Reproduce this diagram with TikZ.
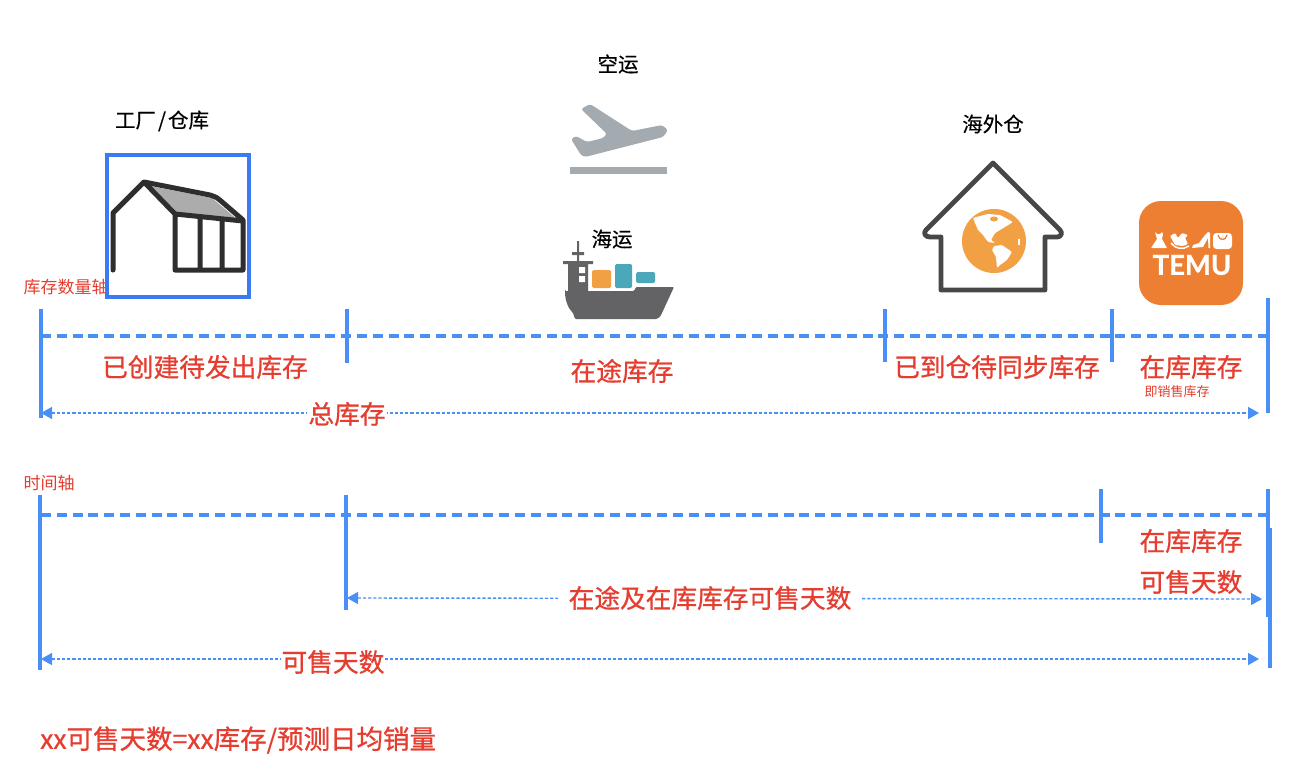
\documentclass[tikz,border=0pt]{standalone}
\usepackage{fontspec}
\setmainfont{Noto Sans CJK SC}
\newfontfamily\redfont[FakeBold=0.8]{Noto Sans CJK SC}
\newfontfamily\titlefont[FakeBold=0.4]{Noto Sans CJK SC}
\newfontfamily\logofont[FakeBold=0.8]{Lato Bold}
\usetikzlibrary{arrows.meta, positioning, calc}
\definecolor{axisblue}{HTML}{4A8FF5}
\definecolor{boxblue}{HTML}{3A7BF2}
\definecolor{labelred}{HTML}{E53D2F}
\definecolor{planegrey}{HTML}{A3ABB1}
\definecolor{shipgrey}{HTML}{636366}
\definecolor{crateorange}{HTML}{F2A044}
\definecolor{crateteal}{HTML}{4BA7BA}
\definecolor{temuorange}{HTML}{ED7F32}
\tikzset{
  axisline/.style={draw=axisblue,line width=4.5pt,dash pattern=on 10pt off 5.8pt},
  tickline/.style={draw=axisblue,line width=3.4pt},
  spanline/.style={draw=axisblue,line width=1.4pt,dash pattern=on 3.2pt off 2pt,{Triangle[length=11pt,width=12pt]}-{Triangle[length=11pt,width=12pt]}},
  biglabel/.style={text=labelred,font=\redfont\fontsize{25.7}{27}\selectfont,inner sep=1pt},
  smalllabel/.style={text=labelred,font=\fontsize{17}{18}\selectfont,inner sep=0pt},
  titlelabel/.style={text=black,font=\titlefont\fontsize{20.5}{22}\selectfont,inner sep=0pt},
}
\begin{document}
\begin{tikzpicture}[x=1pt,y=-1pt]
\useasboundingbox[fill=white] (0,0) rectangle (1310,774);
% Titles
\node[titlelabel] (title_factory) at (162,121) {工厂\kern2pt/\kern2pt仓库};
\node[titlelabel] (title_air) at (618,64) {空运};
\node[titlelabel] (title_oversea) at (993,124) {海外仓};
\node[smalllabel] (title_qty) at (66,287) {库存数量轴};
\node[smalllabel] (title_time) at (49,483) {时间轴};
% Factory
\node[draw=boxblue,line width=3.5pt,minimum size=142pt,inner sep=0pt] (factory_box) at (178,226) {};
\fill[gray!65] (150,186) -- (176,212) -- (238,220) -- (212,198) -- cycle;
\draw[line width=5pt,color=black!82,line join=round,line cap=round] (113,270) -- (113,213) -- (144,182) -- (210,195) .. controls (216,197) and (218,198) .. (221,201) -- (243,220) -- (243,270) -- (175,270) -- (175,214) -- (144,182) (175,214) -- (243,221) (200,218) -- (200,270) (222,220) -- (222,270);
% Plane
\fill[planegrey,rounded corners=2.5pt] (581,109) -- (590,104) -- (632,131) -- (662,125) -- (668,130) -- (663,137) -- (585,157) -- (581,155) -- (571,139) -- (576,136) -- (587,142) -- (603,138) -- (607,134) -- cycle;
\fill[planegrey] (570,167) rectangle (667,174);
% Ship
\fill[shipgrey] (577,241) rectangle (579,261) (572,252) rectangle (584,255);
\fill[shipgrey] (563,261) rectangle (593,264) (568,264) rectangle (588,291);
\fill[white] (579,267) rectangle (585,273) (579,276) rectangle (585,282);
\fill[crateorange,rounded corners=1.5pt] (592,270) rectangle (611,288);
\fill[crateteal,rounded corners=1.5pt] (615,264) rectangle (632,288) (636,272) rectangle (655,283);
\fill[shipgrey,rounded corners=1pt] (565,291) -- (634,291) -- (636,287) -- (674,287) -- (662,313) .. controls (660,317) and (658,319) .. (655,319) -- (575,319) -- (573,313) .. controls (568,308) and (565,300) .. (565,291) -- cycle;
\node[titlelabel] (title_sea) at (612,239) {海运};
% Overseas warehouse
\fill[crateorange] (994,241) circle (32pt);
\fill[white,rounded corners=1pt] (973,218) -- (980,216) -- (988,214) -- (1000,215) -- (1013,222) -- (1005,227) -- (1000,230) -- (995,233) -- (991,240) -- (995,243) -- (988,242) -- (983,235) -- (978,230) -- (975,223) -- cycle;
\fill[crateorange] (994,219) ellipse (4pt and 2.5pt);
\fill[white,rounded corners=1pt] (994,246) -- (1002,245) -- (1012,252) -- (1007,260) -- (1000,265) -- (997,268) -- (996,257) -- (992,250) -- cycle;
\fill[white] (1018,239) rectangle (1020,245);
\draw[line width=4.8pt,color=black!72,line join=round] (941,290) -- (941,237) -- (930,237) .. controls (925,237) and (923,233) .. (926,230) -- (993,163) -- (1060,230) .. controls (1063,233) and (1061,237) .. (1057,237) -- (1045,237) -- (1045,290) -- cycle;
% Logo
\node[fill=temuorange,rounded corners=22pt,minimum size=104pt,inner sep=0pt] (logo_box) at (1191,253) {};
\node[text=white,font=\logofont\fontsize{27.5}{30}\selectfont,inner sep=0pt] (logo_text) at (1192,265) {TEMU};
\fill[white,rounded corners=.6pt] (1155,232) -- (1157,234) -- (1160,234) -- (1162,232) -- (1163,234) -- (1162,239) -- (1167,248) -- (1151,248) -- (1157,239) -- cycle;
\fill[white,rounded corners=1pt] (1170,236) -- (1175,233) -- (1178,238) -- (1182,233) -- (1188,235) -- (1185,238) -- (1188,244) -- (1183,246) -- (1175,245) -- cycle;
\draw[white,line width=1.5pt] (1171,243) .. controls (1175,249) and (1183,250) .. (1189,246);
\fill[white] (1192,248) -- (1193,245) -- (1199,243) -- (1205,235) -- (1208,232) -- (1210,233) -- (1210,248) -- (1208.5,248) -- (1208,238) -- (1203,247) -- cycle;
\fill[white,rounded corners=3.5pt] (1213,233) rectangle (1232,249);
\draw[temuorange,line width=1.3pt] (1218,235) .. controls (1219,241) and (1226,241) .. (1227,235);
% Quantity axis
\coordinate (ax1_0) at (41,336);
\coordinate (ax1_4) at (1268,336);
\draw[axisline] (ax1_0) -- (ax1_4);
\coordinate (t1_0a) at (41,309);
\coordinate (t1_0b) at (41,418);
\coordinate (t1_1a) at (347,309);
\coordinate (t1_1b) at (347,363);
\coordinate (t1_2a) at (885,309);
\coordinate (t1_2b) at (885,362);
\coordinate (t1_3a) at (1112,309);
\coordinate (t1_3b) at (1112,362);
\coordinate (t1_4a) at (1268,298);
\coordinate (t1_4b) at (1268,413);
\draw[tickline] (t1_0a) -- (t1_0b) (t1_1a) -- (t1_1b) (t1_2a) -- (t1_2b) (t1_3a) -- (t1_3b) (t1_4a) -- (t1_4b);
\node[biglabel] (lab_created) at (205,367) {已创建待发出库存};
\node[biglabel] (lab_transit) at (622,371) {在途库存};
\node[biglabel] (lab_arrived) at (997,367) {已到仓待同步库存};
\node[biglabel] (lab_stock) at (1191,367) {在库库存};
\node[text=labelred,font=\fontsize{13}{14}\selectfont,inner sep=0pt] (lab_sale) at (1177,391.5) {即销售库存};
\coordinate (s1_a) at (41,413);
\coordinate (s1_b) at (1259,413);
\draw[spanline] (s1_a) -- (s1_b);
\node[biglabel,fill=white] (lab_total) at (347,414) {总库存};
% Time axis
\coordinate (ax2_0) at (41,515);
\coordinate (ax2_3) at (1268,515);
\draw[axisline] (ax2_0) -- (ax2_3);
\coordinate (t2_0a) at (40,495);
\coordinate (t2_0b) at (40,670);
\coordinate (t2_1a) at (346,495);
\coordinate (t2_1b) at (346,610);
\coordinate (t2_2a) at (1101,489);
\coordinate (t2_2b) at (1101,543);
\coordinate (t2_3a) at (1268,489);
\coordinate (t2_3b) at (1268,617);
\coordinate (t2_4a) at (1270,528);
\coordinate (t2_4b) at (1270,668);
\draw[tickline] (t2_0a) -- (t2_0b) (t2_1a) -- (t2_1b) (t2_2a) -- (t2_2b) (t2_3a) -- (t2_3b) (t2_4a) -- (t2_4b);
\node[biglabel] (lab_stock2) at (1191,541) {在库库存};
\node[biglabel] (lab_days1) at (1191,582) {可售天数};
\coordinate (s2_a) at (347,598);
\coordinate (s2_b) at (1262,599);
\draw[spanline] (s2_a) -- (s2_b);
\node[biglabel,fill=white,inner xsep=11pt] (lab_days2) at (710,598) {在途及在库库存可售天数};
\coordinate (s3_a) at (41,659);
\coordinate (s3_b) at (1259,659);
\draw[spanline] (s3_a) -- (s3_b);
\node[biglabel,fill=white] (lab_days3) at (333,662) {可售天数};
% Formula
\node[biglabel,anchor=west,font=\redfont\fontsize{26.5}{28}\selectfont] (lab_formula) at (39,740) {xx可售天数=xx库存/预测日均销量};
\end{tikzpicture}
\end{document}
